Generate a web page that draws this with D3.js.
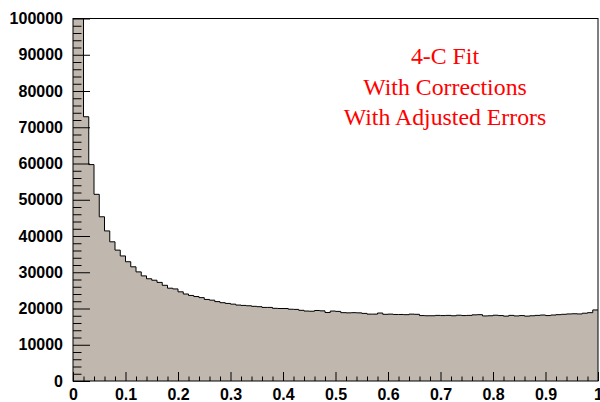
<!DOCTYPE html>
<html>
<head>
<meta charset="utf-8">
<script src="https://cdn.jsdelivr.net/npm/d3@7"></script>
<style>
  html, body { margin: 0; padding: 0; background: #fff; }
  svg { display: block; }
</style>
</head>
<body>
<svg id="chart" width="600" height="402"></svg>
<script>
// ---- data ----
const binEdgesRange = [0, 1];
const nBins = 100;
const counts = [
  160000, 112000, 72900, 59700, 51500, 45300, 41400, 38400, 36100, 34500,
  32900, 31500, 30100, 29000, 28200, 27800, 27200, 26400, 25600, 25400,
  24600, 24000, 23600, 23300, 23000, 22500, 22300, 21900, 21600, 21400,
  21200, 20950, 20850, 20750, 20600, 20500, 20300, 20300, 20050, 20000,
  20000, 19800, 19750, 19500, 19300, 19250, 19450, 19350, 18900, 19300,
  19200, 18850, 18800, 18850, 18800, 18650, 18450, 18450, 18750, 18400,
  18450, 18350, 18350, 18300, 18450, 18400, 18050, 18000, 18000, 18100,
  18050, 18100, 18000, 18150, 18050, 18100, 18250, 18300, 17950, 18000,
  18150, 18050, 17900, 18100, 17950, 18050, 17900, 18000, 18100, 18200,
  18050, 18200, 18300, 18400, 18500, 18550, 18500, 18700, 18850, 19600
];
const xTicks = [0, 0.1, 0.2, 0.3, 0.4, 0.5, 0.6, 0.7, 0.8, 0.9, 1];
const xTickLabels = ["0", "0.1", "0.2", "0.3", "0.4", "0.5", "0.6", "0.7", "0.8", "0.9", "1"];
const yTicks = [0, 10000, 20000, 30000, 40000, 50000, 60000, 70000, 80000, 90000, 100000];
const yTickLabels = ["0", "10000", "20000", "30000", "40000", "50000", "60000", "70000", "80000", "90000", "100000"];
const yDomain = [0, 100000];
const textLines = ["4-C Fit", "With Corrections", "With Adjusted Errors"];

// ---- layout ----
const L = 73, R = 598, T = 18.5, B = 381;
const svg = d3.select("#chart");
const x = d3.scaleLinear().domain(binEdgesRange).range([L, R]);
const y = d3.scaleLinear().domain(yDomain).range([B, T]);

svg.append("defs").append("clipPath").attr("id", "frameClip")
  .append("rect").attr("x", L).attr("y", T).attr("width", R - L).attr("height", B - T);

const bw = (binEdgesRange[1] - binEdgesRange[0]) / nBins;
const pts = [];
counts.forEach((c, i) => {
  const x0 = binEdgesRange[0] + i * bw;
  pts.push([x0, c]);
  pts.push([x0 + bw, c]);
});

const g = svg.append("g").attr("clip-path", "url(#frameClip)");
g.append("path")
  .datum(pts)
  .attr("fill", "#c0b8af")
  .attr("d", d3.area().x(d => x(d[0])).y0(y(0)).y1(d => y(d[1])));
g.append("path")
  .datum(pts)
  .attr("fill", "none")
  .attr("stroke", "#000")
  .attr("stroke-width", 1)
  .attr("d", d3.line().x(d => x(d[0])).y(d => y(d[1])));

// ---- axes ----
const font = "'Liberation Sans', Arial, Helvetica, sans-serif";

// y minor
const yMinor = d3.range(0, 100001, 2000).filter(v => v % 10000 !== 0);
svg.append("g").attr("transform", `translate(${L},0)`)
  .call(d3.axisLeft(y).tickValues(yMinor).tickSize(-8.5).tickFormat(""))
  .call(s => s.select(".domain").remove());
// y major
svg.append("g").attr("transform", `translate(${L},0)`)
  .call(d3.axisLeft(y).tickValues(yTicks).tickSize(-17).tickPadding(10)
    .tickFormat((d, i) => yTickLabels[i]))
  .call(s => s.select(".domain").remove())
  .call(s => s.selectAll("text").attr("font-family", font).attr("font-weight", "bold")
    .attr("font-size", 16).attr("fill", "#000"));

// x minor
const xMinor = d3.range(0, 50).map(i => i * 0.02).filter((v, i) => i % 5 !== 0);
svg.append("g").attr("transform", `translate(0,${B})`)
  .call(d3.axisBottom(x).tickValues(xMinor).tickSize(-4.5).tickFormat(""))
  .call(s => s.select(".domain").remove());
// x major
svg.append("g").attr("transform", `translate(0,${B})`)
  .call(d3.axisBottom(x).tickValues(xTicks).tickSize(-9).tickPadding(8)
    .tickFormat((d, i) => xTickLabels[i]))
  .call(s => s.select(".domain").remove())
  .call(s => s.selectAll("text").attr("font-family", font).attr("font-weight", "bold")
    .attr("font-size", 16).attr("fill", "#000"));

// frame
svg.append("rect").attr("x", L).attr("y", T).attr("width", R - L).attr("height", B - T)
  .attr("fill", "none").attr("stroke", "#000").attr("stroke-width", 1);

// text
const baselines = [64, 95, 125];
svg.append("g").selectAll("text").data(textLines).join("text")
  .attr("x", 445)
  .attr("y", (d, i) => baselines[i])
  .attr("text-anchor", "middle")
  .attr("font-family", "'Liberation Serif', 'Times New Roman', serif")
  .attr("font-size", 23.8)
  .attr("fill", "#ff0000")
  .text(d => d);
</script>
</body>
</html>
